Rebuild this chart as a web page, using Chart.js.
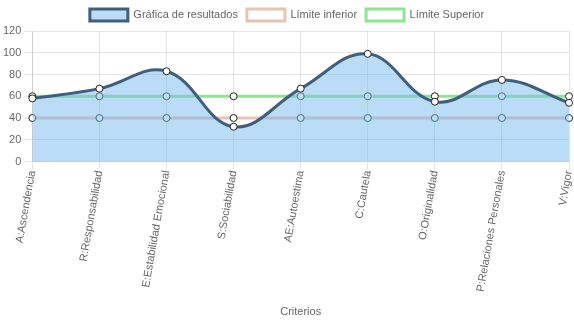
<!DOCTYPE html>
<html>
<head>
<meta charset="utf-8">
<script src="https://cdn.jsdelivr.net/npm/chart.js@4"></script>
<style>
    html, body { margin: 0; padding: 0; background: #fff; }
    #wrap { width: 574px; height: 323px; }
</style>
</head>
<body>
<div id="wrap"><canvas id="chart"></canvas></div>
<script>
// Datos del grafico
const criterios = ["A:Ascendencia", "R:Responsabilidad", "E:Estabilidad Emocional", "S:Sociabilidad",
    "AE:Autoestima", "C:Cautela", "O:Originalidad", "P:Relaciones Personales", "V:Vigor"];
const resultados = [58, 67, 83, 32, 67, 99, 55, 75, 54];
const limiteInferior = [40, 40, 40, 40, 40, 40, 40, 40, 40];
const limiteSuperior = [60, 60, 60, 60, 60, 60, 60, 60, 60];

Chart.defaults.font.family = 'Arial, "Liberation Sans", sans-serif';
Chart.defaults.font.size = 11;
Chart.defaults.color = '#666';

const ctx = document.getElementById('chart').getContext('2d');
const chart = new Chart(ctx, {
    type: 'line',
    data: {
        labels: criterios,
        datasets: [{
            label: 'Gráfica de resultados',
            data: resultados,
            borderColor: '#3f5f7f',
            backgroundColor: 'rgba(120, 185, 240, 0.5)',
            borderWidth: 3,
            pointBackgroundColor: '#fff',
            pointBorderColor: '#222',
            pointBorderWidth: 1,
            pointRadius: 3.5,
            tension: 0.4,
            fill: true
        }, {
            label: 'Límite inferior',
            data: limiteInferior,
            borderColor: 'rgba(230, 195, 180, 1)',
            backgroundColor: '#fff',
            borderWidth: 3,
            pointBackgroundColor: '#fff',
            pointBorderColor: '#222',
            pointBorderWidth: 1,
            pointRadius: 3.5,
            fill: false
        }, {
            label: 'Límite Superior',
            data: limiteSuperior,
            borderColor: 'rgba(140, 230, 140, 1)',
            backgroundColor: '#fff',
            borderWidth: 3,
            pointBackgroundColor: '#fff',
            pointBorderColor: '#222',
            pointBorderWidth: 1,
            pointRadius: 3.5,
            fill: false
        }]
    },
    options: {
        responsive: true,
        maintainAspectRatio: false,
        animation: false,
        plugins: {
            legend: {
                labels: {
                    boxWidth: 38,
                    boxHeight: 12,
                    padding: 9
                }
            },
            tooltip: { enabled: false }
        },
        scales: {
            x: {
                title: {
                    display: true,
                    text: 'Criterios',
                    padding: { top: 16, bottom: 4 }
                },
                ticks: { minRotation: 80, maxRotation: 80, padding: 0 },
                grid: { color: 'rgba(0,0,0,0.1)' },
                afterFit: function(scale) {
                    // the last label does not need much room on the right
                    scale.paddingRight = 1;
                }
            },
            y: {
                min: 0,
                max: 120,
                ticks: { stepSize: 20 },
                grid: { color: 'rgba(0,0,0,0.1)' }
            }
        }
    }
});
</script>
</body>
</html>
